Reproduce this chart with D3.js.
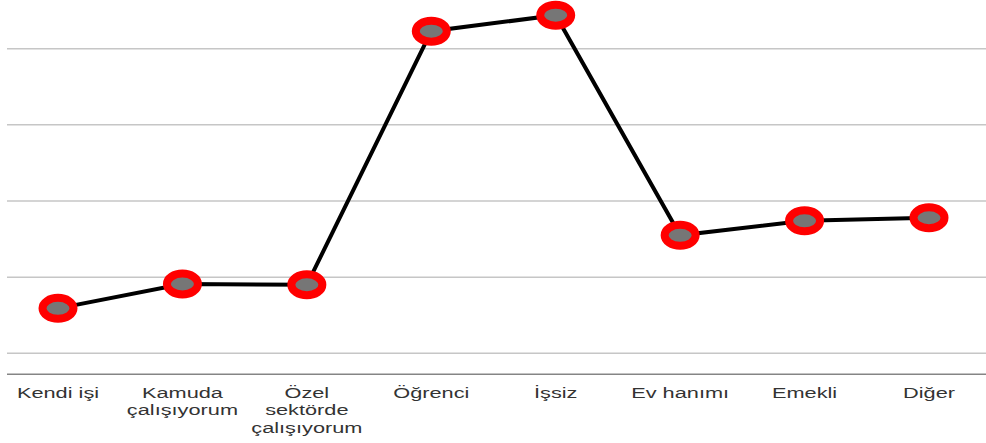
<!DOCTYPE html>
<html>
<head>
<meta charset="utf-8">
<script src="https://cdn.jsdelivr.net/npm/d3@7"></script>
<style>
  body { margin: 0; background: #fff; }
  svg { display: block; }
  .tick-label { font-family: "Liberation Sans", Arial, sans-serif; font-size: 15px; fill: #333; }
</style>
</head>
<body>
<div id="chart"></div>
<script>
'use strict';

const categories = ["Kendi işi", "Kamuda çalışıyorum", "Özel sektörde çalışıyorum", "Öğrenci", "İşsiz", "Ev hanımı", "Emekli", "Diğer"];
const categoryLines = [["Kendi işi"], ["Kamuda", "çalışıyorum"], ["Özel", "sektörde", "çalışıyorum"], ["Öğrenci"], ["İşsiz"], ["Ev hanımı"], ["Emekli"], ["Diğer"]];
const values = [15.9, 19.1, 19.0, 52.3, 54.4, 25.5, 27.4, 27.8];
const gridValues = [10, 20, 30, 40, 50];

const width = 986;
const height = 443;
const stretch = 1.45; // picture is stretched horizontally

const xScale = d3.scalePoint()
  .domain(categories)
  .range([58, 929]);

const yScale = d3.scaleLinear()
  .domain([7.24, 56.4])
  .range([374.3, 0]);

const svg = d3.select("#chart").append("svg")
  .attr("width", width)
  .attr("height", height);

// gridlines
svg.append("g")
  .selectAll("line")
  .data(gridValues)
  .enter().append("line")
  .attr("x1", 7)
  .attr("x2", width)
  .attr("y1", d => yScale(d))
  .attr("y2", d => yScale(d))
  .style("stroke", "#c6c6c6")
  .style("stroke-width", 1.5);

// baseline
svg.append("line")
  .attr("x1", 7)
  .attr("x2", width)
  .attr("y1", yScale.range()[0])
  .attr("y2", yScale.range()[0])
  .style("stroke", "#858585")
  .style("stroke-width", 1.5);

// category labels
const labels = svg.append("g")
  .selectAll("text")
  .data(categories)
  .enter().append("text")
  .attr("class", "tick-label")
  .attr("text-anchor", "middle")
  .attr("transform", d => "translate(" + xScale(d) + ",397.5) scale(" + stretch + ",1)");

labels.selectAll("tspan")
  .data((d, i) => categoryLines[i])
  .enter().append("tspan")
  .attr("x", 0)
  .attr("dy", (d, i) => i === 0 ? 0 : 18)
  .text(d => d);

// series line
const line = d3.line()
  .x((d, i) => xScale(categories[i]))
  .y(d => yScale(d));

svg.append("path")
  .datum(values)
  .attr("d", line)
  .style("fill", "none")
  .style("stroke", "#000")
  .style("stroke-width", 4);

// markers
svg.append("g")
  .selectAll("ellipse")
  .data(values)
  .enter().append("ellipse")
  .attr("cx", (d, i) => xScale(categories[i]))
  .attr("cy", d => yScale(d))
  .attr("rx", 15.5)
  .attr("ry", 10.5)
  .style("fill", "#767676")
  .style("stroke", "#ff0000")
  .style("stroke-width", 8);
</script>
</body>
</html>
